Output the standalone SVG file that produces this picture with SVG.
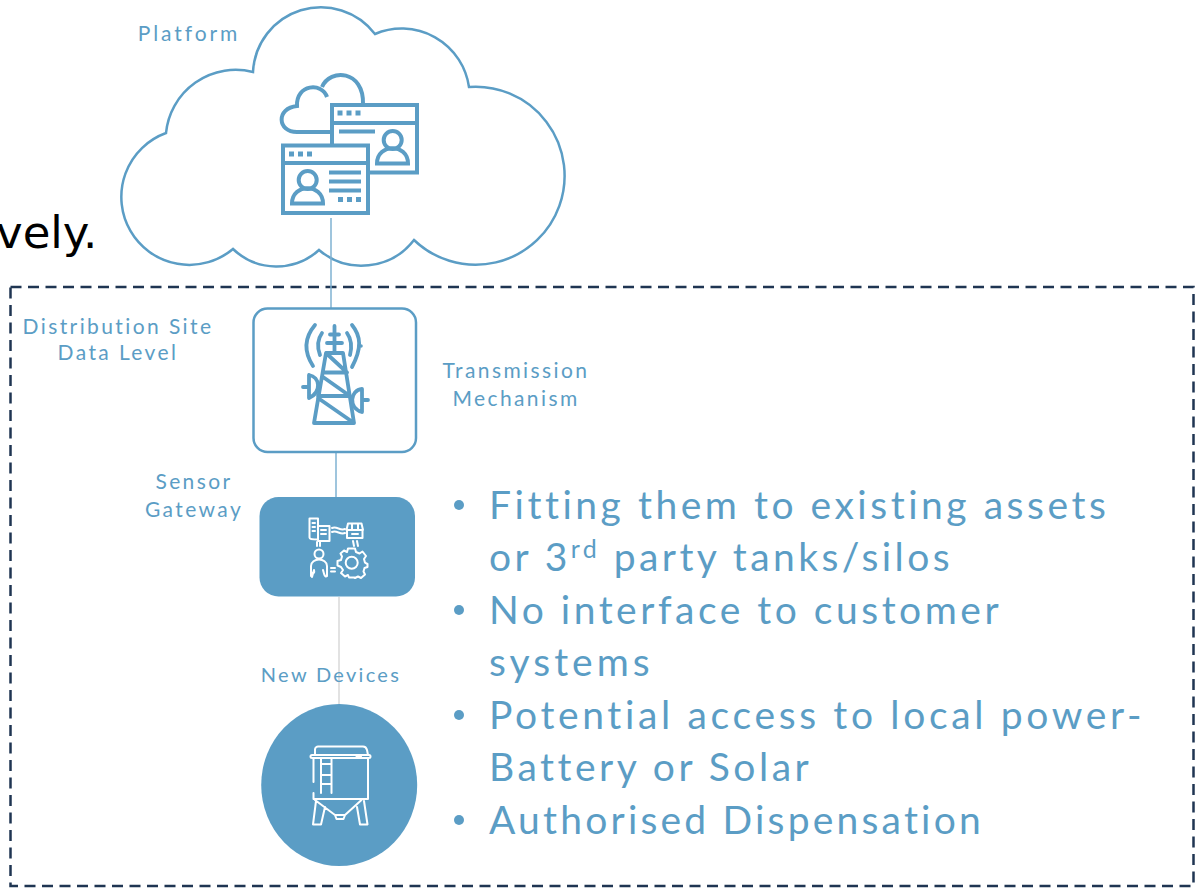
<svg xmlns="http://www.w3.org/2000/svg" width="1202" height="888" viewBox="0 0 1202 888">
<style>
.lb{font-family:"Lato","Liberation Sans",sans-serif;font-size:21px;letter-spacing:2.4px;fill:#5B9DC5;text-anchor:middle}
.bl{font-family:"Lato","Liberation Sans",sans-serif;font-size:39px;letter-spacing:3.5px;fill:#5B9DC5}
.bu{fill:#5B9DC5}
.vl{font-family:"DejaVu Sans",sans-serif;font-size:45px;fill:#000}
.i4{fill:none;stroke:#5B9DC5;stroke-width:4}
.i3{fill:none;stroke:#5B9DC5;stroke-width:3.8;stroke-linecap:round;stroke-linejoin:round}
.w{fill:none;stroke:#fff;stroke-width:2;stroke-linecap:round;stroke-linejoin:round}
.d{fill:#5B9DC5}
</style>
<rect width="1202" height="888" fill="#fff"/>
<text class="vl" x="-4" y="248">vely.</text>
<rect x="10.5" y="287" width="1183" height="599" fill="none" stroke="#1F3552" stroke-width="2.5" stroke-dasharray="11 6.5"/>
<g id="platform">
<path d="M166 133A70 70 0 0 1 253 72A68 68 0 0 1 375 34A68 68 0 0 1 469 87A89 89 0 1 1 414 240A66 66 0 0 1 319 250A63 63 0 0 1 233 249A68 68 0 1 1 166 133Z" fill="#fff" stroke="#5B9DC5" stroke-width="2.5"/>
<path class="i4" d="M363 104C364 70 330 68 322 87M327 97C322 82 296 84 297 106C276 108 277 132 297 132H331"/>
<rect class="i4" x="332" y="105" width="85" height="67.500" fill="#fff"/>
<path class="i4" d="M332 123H417M339 131.500H375"/>
<rect class="d" x="337.500" y="110.500" width="5" height="5"/><rect class="d" x="346.500" y="110.500" width="5" height="5"/><rect class="d" x="355.500" y="110.500" width="5" height="5"/>
<circle class="i4" cx="392.700" cy="140" r="9"/>
<path class="i4" d="M377 163.500C377 143 408 143 408 163.500Z"/>
<rect x="283" y="145.500" width="85" height="67.500" fill="#fff" stroke="#5B9DC5" stroke-width="4"/>
<path class="i4" d="M283 163H368M329 172.500H361M329 181.500H361M329 190.500H361"/>
<rect class="d" x="289" y="151.500" width="5" height="5"/><rect class="d" x="298" y="151.500" width="5" height="5"/><rect class="d" x="307" y="151.500" width="5" height="5"/>
<rect class="d" x="338" y="197" width="5" height="5"/><rect class="d" x="347" y="197" width="5" height="5"/><rect class="d" x="356" y="197" width="5" height="5"/>
<circle class="i4" cx="307.700" cy="180" r="9"/>
<path class="i4" d="M292 203.500C292 183 323 183 323 203.500Z"/>
<text class="lb" x="189" y="41" style="letter-spacing:2.900px">Platform</text>
</g>
<g id="connectors" fill="none">
<path d="M331 218V308" stroke="#7FB2D2" stroke-width="1.500"/>
<path d="M336 453V497" stroke="#7FB2D2" stroke-width="1.500"/>
<path d="M339 597V705" stroke="#D9D9D9" stroke-width="1.500"/>
</g>
<g id="transmission">
<rect x="253.500" y="308.500" width="162.500" height="143.500" rx="14" fill="#fff" stroke="#5B9DC5" stroke-width="2.500"/>
<path class="i3" d="M334.500 326V352M330 334.500H339M327 343H342M326 353H343L354 423H314ZM326 353L347 372.500M323 372.500H347M323 377L350 396M318 396H349M318 398L354 423"/>
<path class="i3" d="M315 325C304 338 304 352 313 366M322 333C317 340 317 347 320 355M352 325C361 336 362 348 352 367M347 333C352 340 352 347 350 355"/>
<circle class="d" cx="361" cy="346" r="1.800"/>
<path class="i3" d="M309 375V398M309 375C320 377 322 392 309 398M303 387H309M362 389V412M362 389C350 390 348 408 362 412M362 400H368"/>
<text class="lb" x="516" y="378">Transmission</text>
<text class="lb" x="516" y="406">Mechanism</text>
<text class="lb" x="118" y="334">Distribution Site</text>
<text class="lb" x="118" y="360">Data Level</text>
</g>
<g id="gateway">
<rect x="259.500" y="497" width="155.500" height="99.500" rx="19" fill="#5B9DC5"/>
<path class="w" d="M318 526V518.500H309.500V537.500C309.500 539 311 539.500 318 539.500M318 526H329.500V541H318ZM312.500 523H315M312.500 527H315M312.500 531H315M321 530H326M321 534H326"/>
<path class="w" d="M332 528C337 526 340 531 345 529M332 532C337 530 340 535 345 533"/>
<path class="w" d="M347 530V538H362.500V530M346.500 530L348 523.500H361.500L363 530ZM352 523.500V530H358V523.500M352 534H358"/>
<path class="w" d="M317 542V546M320 542V546M353 541L354 546M357 541L358 546"/>
<circle class="w" cx="319" cy="554" r="4.500"/>
<path class="w" d="M311 576V566C311 562 315 559.500 319 559.500C323 559.500 327 562 327 566V576C325 578 324 574 323 570M311 566V572C312 574 315 574 314 570M312 577L314 570"/>
<path class="w" d="M331 568H335M331 571.500H335"/>
<circle class="w" cx="351.700" cy="562.700" r="6"/>
<path class="w" d="M348 548.500H355L356 552L359.500 553.500L362.500 551.500L366 556L364 559L365 562.700L367.500 564V567L364.500 568L363.500 571.500L365 574.500L361 578L358 576.500L355 578L354 577.500H349L348 575L345 576.500L341 573L343 570L341 567L337.500 565.500V561L341 560L342 556.500L340.500 553.500L344 550.500L347 552Z"/>
<text class="lb" x="194" y="489">Sensor</text>
<text class="lb" x="194" y="517">Gateway</text>
</g>
<g id="devices">
<ellipse cx="339.200" cy="785" rx="78" ry="81" fill="#5B9DC5"/>
<path class="w" d="M315 755V749.500C315 747.500 317 746.500 318 746.500H363C365 746.500 366.500 748 367 750L368 755M356.500 756.500H361"/>
<path class="w" d="M312 755H369C371 755 371 758 369 758H312C310 758 310 755 312 755Z"/>
<path class="w" d="M313.500 758V782M313.500 793V799H368V758M321 758V793M331.500 758V793M321 764H331.500M321 775H331.500M321 784H331.500M315 800L335 815H345L361.500 800M335 815L336.500 819H343.500L345 815M316 801L313 824.500H321L325 807M364 801L367.500 824.500H360L357 807"/>
<text class="lb" x="331" y="682" style="font-size:20px;letter-spacing:2.300px">New Devices</text>
</g>
<g id="bullets">
<circle class="bu" cx="459" cy="505" r="5"/><text class="bl" x="489" y="519" style="letter-spacing:3.530px">Fitting them to existing assets</text>
<text class="bl" x="489" y="571" style="letter-spacing:3.430px">or 3<tspan dy="-13" font-size="25">rd</tspan><tspan dy="13"> party tanks/silos</tspan></text>
<circle class="bu" cx="459" cy="610" r="5"/><text class="bl" x="489" y="624" style="letter-spacing:3.520px">No interface to customer</text>
<text class="bl" x="489" y="676" style="letter-spacing:4px">systems</text>
<circle class="bu" cx="459" cy="715" r="5"/><text class="bl" x="489" y="729" style="letter-spacing:3.650px">Potential access to local power-</text>
<text class="bl" x="489" y="781" style="letter-spacing:3.500px">Battery or Solar</text>
<circle class="bu" cx="459" cy="820" r="5"/><text class="bl" x="489" y="834" style="letter-spacing:3.200px">Authorised Dispensation</text>
</g>
</svg>
